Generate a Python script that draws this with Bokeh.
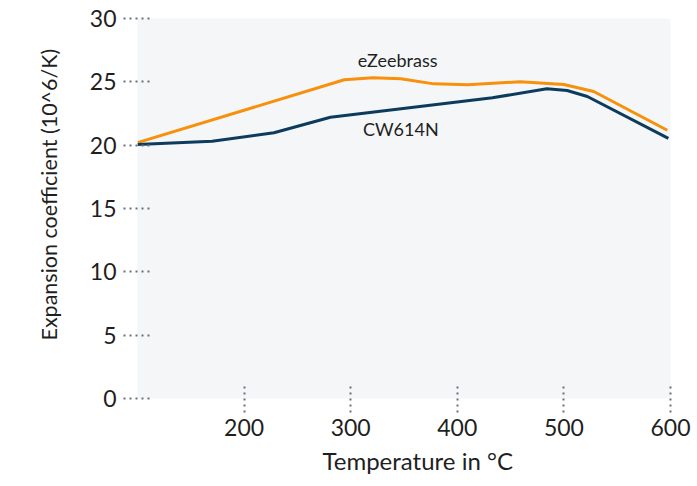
from bokeh.plotting import figure
from bokeh.models import ColumnDataSource, FixedTicker, Range1d, Title
from bokeh.embed import file_html
from bokeh.resources import INLINE
from bokeh.core.properties import value

# data
cw_temp = [100, 170, 228, 281, 433, 484, 503, 522, 598]
cw_coef = [20.05, 20.31, 20.98, 22.2, 23.74, 24.45, 24.32, 23.84, 20.53]
ez_temp = [100, 294, 321, 347, 378, 410, 459, 500, 528, 597]
ez_coef = [20.2, 25.16, 25.32, 25.24, 24.84, 24.77, 25.01, 24.79, 24.24, 21.18]
x_ticks = [200, 300, 400, 500, 600]
y_ticks = [0, 5, 10, 15, 20, 25, 30]
series_names = ["eZeebrass", "CW614N"]
label_x = [344, 347]
label_y = [26.7, 21.3]
x_title = "Temperature in °C"
y_title = "Expansion coefficient (10^6/K)"

FONT = "Lato"
TEXT = "#1f1f1f"
TICK = "#6b7178"

p = figure(
    frame_width=533, frame_height=380,
    x_range=Range1d(100, 600), y_range=Range1d(0, 30),
    output_backend="svg", toolbar_location=None,
    min_border_left=137, min_border_top=18, min_border_right=27, min_border_bottom=80,
)
p.background_fill_color = "#f4f6f8"
p.border_fill_color = "white"
p.outline_line_color = None
p.grid.visible = False

p.line(ez_temp, ez_coef, line_color="#f7900a", line_width=3)
p.line(cw_temp, cw_coef, line_color="#0d3b5e", line_width=3)

src = ColumnDataSource(dict(x=label_x, y=label_y, t=series_names))
p.text(x="x", y="y", text="t", source=src, text_align="center", text_baseline="middle",
       text_font=value(FONT), text_font_size="18px", text_color=TEXT)

for ax in (p.xaxis[0], p.yaxis[0]):
    ax.axis_line_color = None
    ax.minor_tick_line_color = None
    ax.major_tick_line_color = TICK
    ax.major_tick_line_width = 2
    ax.major_tick_line_dash = "2 4"
    ax.major_tick_in = 14
    ax.major_tick_out = 14
    ax.major_label_text_font = FONT
    ax.major_label_text_font_size = "23px"
    ax.major_label_text_color = TEXT

p.xaxis[0].ticker = FixedTicker(ticks=x_ticks)
p.yaxis[0].ticker = FixedTicker(ticks=y_ticks)
p.xaxis[0].major_label_standoff = 6
p.yaxis[0].major_label_standoff = 7

# axis titles, slightly off-centre as in the reference
p.add_layout(Title(text=x_title, align="left", offset=185, standoff=10,
                   text_font=FONT, text_font_size="24px", text_font_style="normal",
                   text_color=TEXT), "below")
p.add_layout(Title(text=y_title, align="left", offset=58, standoff=50,
                   text_font=FONT, text_font_size="21.5px", text_font_style="normal",
                   text_color=TEXT), "left")

open("out.html", "w").write(file_html(p, INLINE))
